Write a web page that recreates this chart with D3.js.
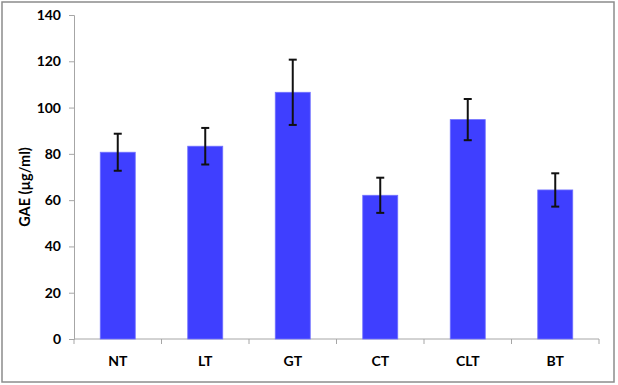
<!DOCTYPE html>
<html><head><meta charset="utf-8">
<script src="https://cdn.jsdelivr.net/npm/d3@7"></script>
<style>body{margin:0;background:#fff}svg{display:block}</style>
</head><body>
<script>
const categories = ["NT","LT","GT","CT","CLT","BT"];
const values = [80.7, 83.3, 106.6, 62.1, 94.8, 64.4];
const errors = [8.0, 7.9, 14.1, 7.6, 8.9, 7.2];
const yTicks = [0,20,40,60,80,100,120,140];
const yLabel = "GAE (µg/ml)";

(function(){
const W=618,H=385;
const svg=d3.select("body").append("svg").attr("width",W).attr("height",H);
svg.append("rect").attr("x",2).attr("y",2).attr("width",612).attr("height",380)
  .attr("fill","#fff").attr("stroke","#8c8c8c").attr("stroke-width",1.5);
const pL=74,pR=599,pT=15,pB=339;
const x=d3.scaleBand().domain(categories).range([pL,pR]).paddingInner(0.6).paddingOuter(0.3);
const y=d3.scaleLinear().domain([0,140]).range([pB,pT]);
const font="Lato, 'Open Sans', sans-serif";

const ya=svg.append("g").attr("transform",`translate(${pL},0)`)
  .call(d3.axisLeft(y).tickValues(yTicks).tickSize(5).tickPadding(8));
ya.select(".domain").attr("stroke","#a6a6a6");
ya.selectAll(".tick line").attr("stroke","#a6a6a6");
ya.selectAll("text").attr("font-family",font).attr("font-weight","bold").attr("font-size",14).attr("fill","#000");

const xa=svg.append("g").attr("transform",`translate(0,${pB})`)
  .call(d3.axisBottom(x).tickSize(0).tickPadding(17));
xa.select(".domain").attr("stroke","#a6a6a6").attr("d",`M${pL},0H${pR}`);
xa.selectAll("text").attr("font-family",font).attr("font-weight","bold").attr("font-size",14).attr("fill","#000");
const bounds=d3.range(categories.length+1).map(i=>pL+i*(pR-pL)/categories.length);
xa.selectAll(".sep").data(bounds).enter().append("line").attr("class","sep")
  .attr("x1",d=>d).attr("x2",d=>d).attr("y1",0).attr("y2",5).attr("stroke","#a6a6a6");

svg.append("g").selectAll("rect").data(categories).enter().append("rect")
  .attr("x",d=>x(d)).attr("width",x.bandwidth())
  .attr("y",(d,i)=>y(values[i])).attr("height",(d,i)=>y(0)-y(values[i]))
  .attr("fill","#3f3fff").attr("stroke","#7070ff").attr("stroke-width",0.8);

const eb=svg.append("g").attr("stroke","#111").attr("stroke-width",2);
categories.forEach((c,i)=>{
  const cx=x(c)+x.bandwidth()/2;
  const y1=y(values[i]+errors[i]), y2=y(values[i]-errors[i]);
  eb.append("line").attr("x1",cx).attr("x2",cx).attr("y1",y1).attr("y2",y2);
  eb.append("line").attr("x1",cx-4).attr("x2",cx+4).attr("y1",y1).attr("y2",y1);
  eb.append("line").attr("x1",cx-4).attr("x2",cx+4).attr("y1",y2).attr("y2",y2);
});

svg.append("text").attr("transform",`translate(30,187) rotate(-90)`)
  .attr("text-anchor","middle").attr("font-family",font).attr("font-weight","bold")
  .attr("font-size",14.5).text(yLabel);
})();
</script>
</body></html>
